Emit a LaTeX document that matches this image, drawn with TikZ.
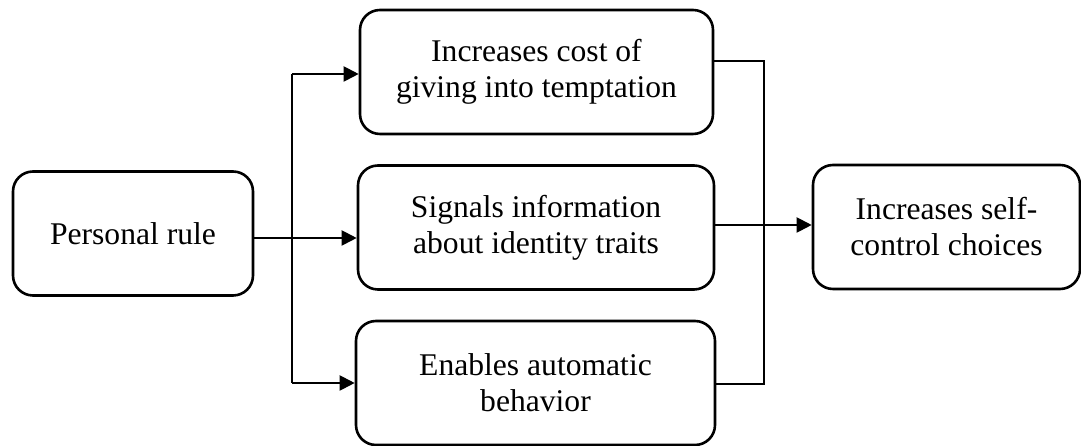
\documentclass[tikz,border=0pt]{standalone}
\usepackage{fontspec}
\setmainfont{Liberation Serif}
\usetikzlibrary{arrows.meta,calc}
\begin{document}
\begin{tikzpicture}[x=1pt,y=1pt,
  box/.style={draw, line width=2.6pt, rounded corners=20pt, inner sep=0pt,
    align=center, minimum height=124pt,
    font=\fontsize{31.6}{36}\selectfont},
  link/.style={line width=2pt},
  arr/.style={link, -{Triangle[length=15pt,width=15pt]}}]
\useasboundingbox (0,0) rectangle (1081,446);

% boxes
\node[box, minimum width=240pt] (rule) at (133,212.5) {Personal rule};
\node[box, minimum width=353pt] (cost) at (536.5,374) {Increases cost of\\giving into temptation};
\node[box, minimum width=356pt] (sig)  at (536,218.5) {Signals information\\about identity traits};
\node[box, minimum width=359pt] (auto) at (535.5,63) {Enables automatic\\behavior};
\node[box, minimum width=267pt] (self) at (946.5,219) {Increases self-\\control choices};

% branch points
\coordinate (split) at (292,0);
\coordinate (merge) at (764,0);

% from the rule to the three mechanisms
\draw[arr] ([yshift=-4.5pt]rule.east) -- ([yshift=-4.5pt]rule.east -| sig.west);
\draw[arr] ([yshift=-2pt]cost.west -| split) -- ([yshift=-2pt]cost.west);
\draw[arr] (auto.west -| split) -- (auto.west);
\draw[link] ([yshift=-2pt]cost.west -| split) -- (auto.west -| split);

% from the mechanisms to the outcome
\draw[link] ([yshift=11pt]cost.east) -- ([yshift=11pt]cost.east -| merge)
  -- ([yshift=-1pt]auto.east -| merge) -- ([yshift=-1pt]auto.east);
\draw[arr] ([yshift=2.5pt]sig.east) -- ([yshift=2.5pt]sig.east -| self.west);
\end{tikzpicture}
\end{document}
